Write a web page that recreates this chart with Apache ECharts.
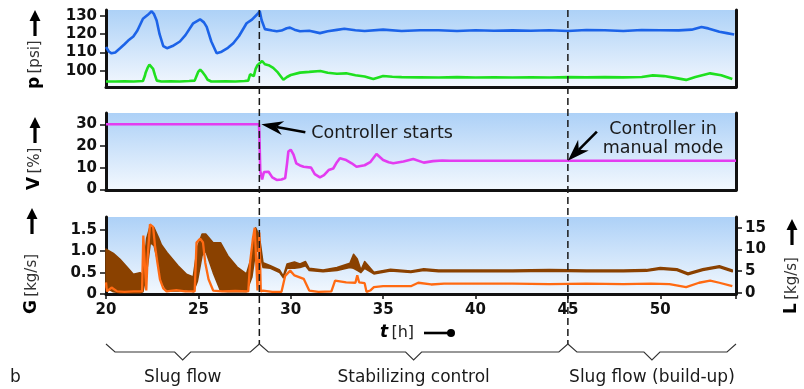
<!DOCTYPE html>
<html><head><meta charset="utf-8">
<script src="https://cdn.jsdelivr.net/npm/echarts@6/dist/echarts.min.js"></script>
<style>html,body{margin:0;padding:0;background:#fff}#c{width:804px;height:389px}</style>
</head><body><div id="c"></div>
<script>
// ---------- data ----------
const xTicks = [20, 25, 30, 35, 40, 45, 50];
const pTicks = [100, 110, 120, 130];
const vTicks = [0, 10, 20, 30];
const gTicks = [0, 0.5, 1.0, 1.5];
const lTicks = [0, 5, 10, 15];
const eventTimes = [28.3, 45];
const phaseLabels = ['Slug flow', 'Stabilizing control', 'Slug flow (build-up)'];

const pBlueT = [20.0,20.15,20.3,20.5,20.76,21.0,21.2,21.48,21.7,22.0,22.25,22.47,22.6,22.74,22.9,23.1,23.3,23.6,24.0,24.3,24.72,25.09,25.3,25.45,25.7,25.99,26.26,26.6,26.89,27.2,27.61,27.9,28.24,28.32,28.42,28.6,29.0,29.24,29.5,29.78,29.96,30.2,30.5,31.0,31.58,32.0,32.5,32.9,33.5,34.0,35,36,37,38,39,40,41,42,43,44,45,46,47,48,49,50,51,51.7,52.23,52.6,53.2,53.6,54.0];
const pBlueV = [113,110.5,109.5,110,112.3,114.5,116.5,118.7,122,128.5,130.5,132.6,131,127.5,120,113.5,112.3,113.5,116,119.5,126,128.2,126.5,124,116,109.5,110.4,112.5,115,119,126,128,131.5,132.8,127.8,122.8,122,121.6,122,123.3,123.6,122.5,121.6,121.9,120.6,121.6,122.4,123,122.2,121.8,122.5,121.8,122.2,122.2,121.8,122.2,121.9,122.1,121.9,122.2,121.8,122.3,122.2,121.8,122.3,122.2,122.1,122.5,124.0,123.2,121.4,120.6,119.8];

const pGreenT = [20.0,20.5,21.0,21.5,22.0,22.1,22.15,22.25,22.35,22.45,22.55,22.65,22.75,23.0,23.5,24.0,24.5,24.8,24.9,25.0,25.1,25.2,25.35,25.5,25.7,26.5,27.0,27.5,27.7,27.8,27.9,28.0,28.1,28.2,28.3,28.45,28.6,28.8,29.05,29.3,29.6,29.8,30.0,30.5,31.0,31.6,32.0,32.5,33.0,33.5,34.0,34.47,35.0,35.5,36,37,38,39,40,41,42,43,44,45,46,47,48,49,49.6,50.2,50.8,51.4,51.9,52.7,53.3,53.9];
const pGreenV = [94,94,94.2,94,94.3,97,99,101.5,103.3,103,101,97.5,94.5,94,94.2,94,94.3,94.5,97,99.5,100.6,99.5,97.5,95,94,94.2,94,94.3,94.5,98,99,97,101,103,102,105.3,103.5,103,101.5,99,95,96.5,97.6,98.9,99.3,99.8,98.8,98.3,98.5,97.5,96.8,95.4,97,96.6,96.4,96.3,96.2,96.4,96.2,96.3,96.2,96.3,96.2,96.4,96.3,96.4,96.3,96.5,97.4,97.0,96.0,94.9,96.5,98.5,97.5,95.4];

const vT = [20,28.28,28.3,28.35,28.45,28.55,28.8,29.0,29.24,29.5,29.7,29.8,29.87,30.0,30.15,30.3,30.5,30.7,31.1,31.3,31.58,31.8,32.05,32.3,32.5,32.66,33.0,33.3,33.56,34.0,34.3,34.64,35.0,35.3,35.55,36.1,36.63,37.2,37.7,38.2,38.6,54.1];
const vV = [30,30,26,8.5,4.5,8,8.1,5.5,4.3,4.5,5.2,12,17.4,18.3,16,12,11,10.4,10,7,5.5,6.5,8.9,9.6,12.5,14.3,13.5,12,10.4,11.1,12.5,16.3,13.5,12.5,12,12.8,14,12.3,13,13.3,13.2,13.2];

const gT  = [20.0,20.4,20.76,21.1,21.48,21.84,22.0,22.2,22.4,22.6,22.86,23.0,23.3,23.9,24.36,24.72,24.95,25.2,25.4,25.8,26.2,26.6,27.1,27.6,27.9,28.1,28.3,28.5,28.9,29.4,29.6,29.8,30.2,30.5,30.8,31.0,31.75,32.5,33.2,33.4,33.6,33.8,34.0,34.5,35.4,36.5,37.2,38.0,40,42,44,46,48,49.25,50.0,50.9,51.5,52.3,53.2,53.9];
const gLo = [0.15,0.05,0.03,0.03,0.03,0.03,0.05,0.5,1.2,1.13,0.66,0.3,0.07,0.07,0.1,0.05,0.3,0.9,1.0,0.5,0.07,0.05,0.05,0.05,0.4,1.0,1.0,0.62,0.6,0.5,0.38,0.6,0.6,0.62,0.66,0.55,0.52,0.55,0.62,0.6,0.55,0.5,0.6,0.47,0.54,0.5,0.55,0.52,0.52,0.52,0.53,0.52,0.52,0.53,0.58,0.55,0.45,0.55,0.62,0.52];
const gHi = [1.05,0.95,0.81,0.65,0.46,0.5,0.45,1.3,1.6,1.55,1.3,1.15,0.97,0.66,0.46,0.4,1.1,1.4,1.4,1.2,1.2,0.89,0.63,0.47,0.9,1.55,1.36,0.73,0.66,0.56,0.42,0.7,0.75,0.7,0.76,0.6,0.56,0.62,0.72,0.93,0.82,0.56,0.76,0.51,0.58,0.54,0.59,0.56,0.56,0.56,0.57,0.56,0.56,0.57,0.62,0.59,0.49,0.59,0.66,0.56];

const lT = [20.0,20.05,20.3,20.6,21.0,21.5,21.95,22.02,22.1,22.18,22.25,22.38,22.55,22.65,22.78,22.92,23.1,23.28,23.8,24.3,24.8,24.9,25.1,25.25,25.37,25.55,25.8,26.3,27.0,27.7,27.8,27.95,28.05,28.15,28.2,28.3,28.38,28.5,29.0,29.5,29.7,29.97,30.2,30.7,31.0,31.5,32.2,32.4,33.0,33.5,33.6,33.7,34.0,34.1,34.3,34.5,35.0,36.0,36.5,36.9,37.6,38.3,40,42,44,46,48,49.5,50.5,51.4,52.1,52.7,53.2,53.9];
const lV = [2.4,0.3,1.2,0.3,0.2,0.3,0.3,13.2,13.2,0.5,8,15.8,15.2,10.9,7,3.1,1,0.3,0.6,0.3,0.3,11.6,12.5,11.6,7,3.1,0.5,0.3,0.4,0.3,7,12.5,15,15,0.5,13.9,0.3,0.5,0.2,0.2,3.9,5.1,4.0,3.2,0.5,0.2,0.3,2.8,2.4,2.3,4,2.4,2.2,0.2,0.5,1.3,1.5,1.5,1.5,2.3,1.9,2.1,2.1,2.1,2.0,2.1,2.0,2.1,2.0,1.3,2.3,2.8,2.3,1.5];

// ---------- chart ----------
const FONT = 'DejaVu Sans';
const INK = '#111';
const chart = echarts.init(document.getElementById('c'), null, {renderer: 'canvas'});
const bg = {type:'linear', x:0, y:0, x2:0, y2:1, colorStops:[{offset:0, color:'#add1f7'},{offset:1, color:'#f3f8fe'}]};
const pairs = (t, v) => t.map((x, i) => [x, v[i]]);

const gridBox = (top) => ({left:106, right:68, top:top, height:77, show:true, backgroundColor:bg, borderWidth:0});
const xBase = (idx, withLabels) => ({
  type:'value', gridIndex:idx, min:20, max:54.1, interval:5,
  axisLine:{show:true, onZero:false, lineStyle:{color:INK, width:3}},
  axisTick:{show:withLabels, inside:false, length:5, lineStyle:{color:INK, width:1.5}},
  axisLabel:{show:withLabels, color:INK, fontFamily:FONT, fontWeight:'bold', fontSize:15, margin:9,
    customValues: xTicks},
  splitLine:{show:false}
});
const yLeft = (idx, min, max, ticks, fmt) => ({
  type:'value', gridIndex:idx, min:min, max:max, position:'left',
  axisLine:{show:true, onZero:false, lineStyle:{color:INK, width:3}},
  axisTick:{show:true, length:6, customValues:ticks, lineStyle:{color:INK, width:1.5}},
  axisLabel:{color:INK, fontFamily:FONT, fontWeight:'bold', fontSize:15, margin:9, customValues:ticks,
    formatter: fmt || (v => String(v))},
  splitLine:{show:false}
});
const yRightPlain = (idx, min, max) => ({
  type:'value', gridIndex:idx, min:min, max:max, position:'right',
  axisLine:{show:true, onZero:false, lineStyle:{color:INK, width:3}},
  axisTick:{show:false}, axisLabel:{show:false}, splitLine:{show:false}
});

chart.setOption({
  animation:false,
  grid:[gridBox(10), gridBox(113), gridBox(217)],
  xAxis:[xBase(0,false), xBase(1,false), xBase(2,true)],
  yAxis:[
    yLeft(0, 91, 133.3, pTicks),
    yRightPlain(0, 91, 133.3),
    yLeft(1, -0.32, 35.2, vTicks),
    yRightPlain(1, -0.32, 35.2),
    yLeft(2, 0, 1.8, gTicks, v => v === 0 ? '0' : v.toFixed(1)),
    {type:'value', gridIndex:2, min:-0.3, max:17.5, position:'right',
     axisLine:{show:true, onZero:false, lineStyle:{color:INK, width:3}},
     axisTick:{show:true, length:6, customValues:lTicks, lineStyle:{color:INK, width:1.5}},
     axisLabel:{color:INK, fontFamily:FONT, fontWeight:'bold', fontSize:15, margin:9, customValues:lTicks},
     splitLine:{show:false}}
  ],
  series:[
    {type:'line', xAxisIndex:0, yAxisIndex:0, data:pairs(pGreenT, pGreenV), symbol:'none',
     lineStyle:{color:'#1fe01f', width:2.6}, z:3},
    {type:'line', xAxisIndex:0, yAxisIndex:0, data:pairs(pBlueT, pBlueV), symbol:'none',
     lineStyle:{color:'#1c63e8', width:2.6}, z:3},
    {type:'line', xAxisIndex:1, yAxisIndex:2, data:pairs(vT, vV), symbol:'none',
     lineStyle:{color:'#e33cf0', width:2.6}, z:3},
    {type:'custom', xAxisIndex:2, yAxisIndex:4, z:3,
     data: gT.map((t, i) => [t, gLo[i], gHi[i]]),
     encode:{x:0, y:[1,2]},
     renderItem: function (params, api) {
       if (params.dataIndex !== 0) return null;
       const pts = [];
       for (let i = 0; i < gT.length; i++) pts.push(api.coord([gT[i], gHi[i]]));
       for (let i = gT.length - 1; i >= 0; i--) pts.push(api.coord([gT[i], gLo[i]]));
       return {type:'polygon', shape:{points:pts},
         style:{fill:'#8a4100', stroke:'#8a4100', lineWidth:1.5, lineJoin:'round'}};
     }},
    {type:'line', xAxisIndex:2, yAxisIndex:5, data:pairs(lT, lV), symbol:'none',
     lineStyle:{color:'#ff6a12', width:2.3}, z:4}
  ]
});

// ---------- annotations ----------
const px = (g, v) => chart.convertToPixel({gridIndex:g}, v);
const gfx = [];
const topY = px(0, [20, 133.3])[1];
const braceTopY = 344, braceY = 352, dipY = 360;

eventTimes.forEach(t => {
  const x = px(0, [t, 100])[0];
  gfx.push({type:'line', z:50, shape:{x1:x, y1:topY, x2:x, y2:braceTopY},
    style:{stroke:'#1a1a1a', lineWidth:1.5, lineDash:[7,4]}});
});

// braces
const bounds = [20, eventTimes[0], eventTimes[1], 54.1].map(t => px(2, [t, 0])[0]);
for (let i = 0; i < 3; i++) {
  const a = bounds[i], b = bounds[i+1], m = (a + b) / 2;
  gfx.push({type:'polyline', z:50, shape:{points:[[a,braceTopY],[a+9,braceY],[m-8,braceY],[m,dipY],[m+8,braceY],[b-9,braceY],[b,braceTopY]]},
    style:{stroke:'#333', lineWidth:1.1, fill:null}});
  gfx.push({type:'text', z:50, x:m, y:378, style:{text:phaseLabels[i], fill:'#1a1a1a', font:'17px "' + FONT + '"', textAlign:'center', textVerticalAlign:'middle'}});
}
gfx.push({type:'text', z:50, x:10, y:378, style:{text:'b', fill:'#1a1a1a', font:'17px "' + FONT + '"', textAlign:'left', textVerticalAlign:'middle'}});

// vertical arrow (pointing up) helper
function upArrow(cx, tipY, len) {
  return {type:'polygon', z:50, shape:{points:[[cx,tipY],[cx+5.5,tipY+11],[cx+1.6,tipY+11],[cx+1.6,tipY+len],[cx-1.6,tipY+len],[cx-1.6,tipY+11],[cx-5.5,tipY+11]]},
    style:{fill:'#000'}};
}
function axisTitle(x, yStart, letter, unit) {
  return {type:'text', z:50, x:x, y:yStart, rotation:Math.PI/2,
    style:{text:'{b|' + letter + '} {n|' + unit + '}', textAlign:'left', textVerticalAlign:'middle',
      rich:{b:{fontFamily:FONT, fontWeight:'bold', fontSize:17, fill:'#000'},
            n:{fontFamily:FONT, fontSize:15, fill:'#333'}}}};
}
gfx.push(axisTitle(35, 89, 'p', '[psi]'), upArrow(35, 10, 26));
gfx.push(axisTitle(35, 190, 'V', '[%]'), upArrow(35, 117, 26));
gfx.push(axisTitle(32, 314, 'G', '[kg/s]'), upArrow(32, 208, 26));
gfx.push(axisTitle(792, 314, 'L', '[kg/s]'), upArrow(792, 219, 26));

// t [h] label
gfx.push({type:'text', z:50, x:380, y:333, style:{text:'{t|t} {n|[h]}', textAlign:'left', textVerticalAlign:'middle',
  rich:{t:{fontFamily:FONT, fontWeight:'bold', fontStyle:'italic', fontSize:17, fill:'#000'},
        n:{fontFamily:FONT, fontSize:16, fill:'#222'}}}});
gfx.push({type:'line', z:50, shape:{x1:424, y1:333, x2:450, y2:333}, style:{stroke:'#000', lineWidth:2.6}});
gfx.push({type:'circle', z:50, shape:{cx:451, cy:333, r:4}, style:{fill:'#000'}});

// annotation arrows
function barbArrow(tail, tip, L, W) {
  const dx = tail[0]-tip[0], dy = tail[1]-tip[1], d = Math.hypot(dx, dy);
  const ux = dx/d, uy = dy/d, nx = -uy, ny = ux;
  const bx = tip[0]+ux*L, by = tip[1]+uy*L;
  const nb = [tip[0]+ux*L*0.7, tip[1]+uy*L*0.7];
  return [
    {type:'line', z:50, shape:{x1:nb[0], y1:nb[1], x2:tail[0], y2:tail[1]}, style:{stroke:'#000', lineWidth:2.6}},
    {type:'polygon', z:51, shape:{points:[tip,[bx+nx*W/2,by+ny*W/2],nb,[bx-nx*W/2,by-ny*W/2]]}, style:{fill:'#000'}}
  ];
}
const tip1 = px(1, [eventTimes[0], 30]);
tip1[0] += 2;
gfx.push(...barbArrow([tip1[0]+44, tip1[1]+8], tip1, 22, 14));
gfx.push({type:'text', z:50, x:tip1[0]+50, y:133, style:{text:'Controller starts', fill:'#1a1a1a', font:'17.5px "' + FONT + '"', textAlign:'left', textVerticalAlign:'middle'}});

const tip2 = px(1, [eventTimes[1], 13.2]);
gfx.push(...barbArrow([tip2[0]+29, tip2[1]-29], tip2, 22, 15));
gfx.push({type:'text', z:50, x:663, y:129, style:{text:'Controller in', fill:'#1a1a1a', font:'17.5px "' + FONT + '"', textAlign:'center', textVerticalAlign:'middle'}});
gfx.push({type:'text', z:50, x:663, y:148, style:{text:'manual mode', fill:'#1a1a1a', font:'17.5px "' + FONT + '"', textAlign:'center', textVerticalAlign:'middle'}});

chart.setOption({graphic:{elements:gfx}});
</script>
</body></html>
